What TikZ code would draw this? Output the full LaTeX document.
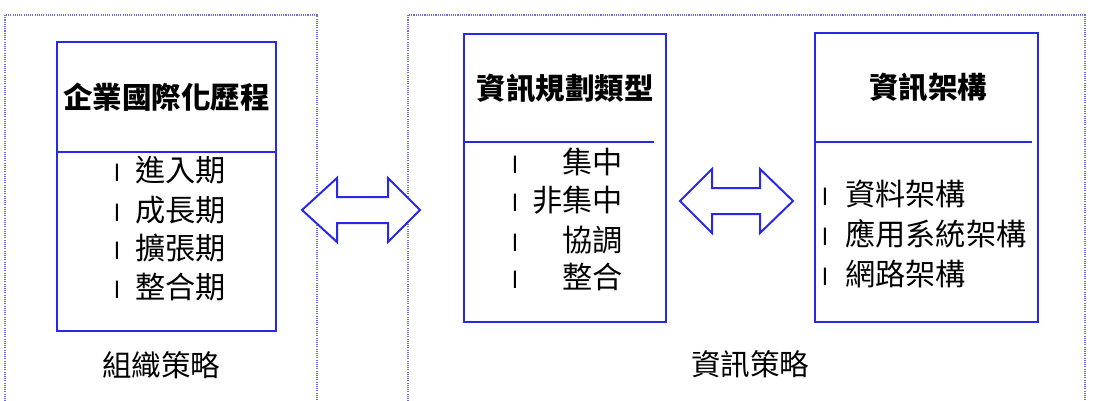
\documentclass[tikz,border=0pt]{standalone}
\usepackage{fontspec}
\setmainfont{Noto Sans CJK TC}
\newfontfamily\bulfont{Liberation Sans}
\definecolor{boxblue}{RGB}{40,40,235}
\definecolor{dotblue}{RGB}{110,110,225}
\begin{document}
\begin{tikzpicture}[x=1pt,y=-1pt,
  box/.style={draw=boxblue, line width=2pt, rectangle, inner sep=0pt},
  divline/.style={draw=boxblue, line width=2pt},
  region/.style={draw=dotblue, line width=1.4pt, dash pattern=on 1.1pt off 1.1pt},
  dblarrow/.style={draw=boxblue, line width=2pt, fill=white, line join=miter},
  boxtitle/.style={inner sep=0pt, font=\fontsize{29.5}{34}\selectfont\bfseries},
  listitem/.style={inner sep=0pt, font=\fontsize{30.2}{34}\selectfont},
  bul/.style={inner sep=0pt, font=\bulfont\fontsize{24}{26}\selectfont},
  captext/.style={inner sep=0pt, font=\fontsize{29.5}{34}\selectfont}]
\useasboundingbox (0,0) rectangle (1100,401);
\fill[white] (0,0) rectangle (1100,401);

% dotted regions
\draw[region] (5,410) -- (5,15) -- (317,15) -- (317,410);
\draw[region] (408,410) -- (408,15) -- (1085,15) -- (1085,410);

% left box
\node[box, minimum width=219pt, minimum height=289pt] (org) at (166.5,186.5) {};
\draw[divline] (org.west |- 0,152) -- (org.east |- 0,152);
\node[boxtitle] (orgt) at (166.5,97) {企業國際化歷程};
\node[bul] (ob1) at (117,173) {l};
\node[listitem, anchor=west] (oi1) at (135,170) {進入期};
\node[bul] (ob2) at (117,213) {l};
\node[listitem, anchor=west] (oi2) at (135,210) {成長期};
\node[bul] (ob3) at (117,251) {l};
\node[listitem, anchor=west] (oi3) at (135,248) {擴張期};
\node[bul] (ob4) at (117,290) {l};
\node[listitem, anchor=west] (oi4) at (135,287) {整合期};
\node[captext] (orgcap) at (161,365) {組織策略};

% middle box
\node[box, minimum width=202pt, minimum height=288pt] (plan) at (565,178) {};
\draw[divline] (plan.west |- 0,142) -- (654,142);
\node[boxtitle] (plant) at (565,89) {資訊規劃類型};
\node[bul] (pb1) at (515,165) {l};
\node[listitem, anchor=east] (pi1) at (623,162) {集中};
\node[bul] (pb2) at (515,203) {l};
\node[listitem, anchor=east] (pi2) at (623,200) {非集中};
\node[bul] (pb3) at (515,243) {l};
\node[listitem, anchor=east] (pi3) at (623,240) {協調};
\node[bul] (pb4) at (515,280) {l};
\node[listitem, anchor=east] (pi4) at (623,277) {整合};

% right box
\node[box, minimum width=223pt, minimum height=288pt] (arch) at (926.5,177.5) {};
\draw[divline] (arch.west |- 0,142) -- (1032,142);
\node[boxtitle] (archt) at (928,88) {資訊架構};
\node[bul] (ab1) at (825,197) {l};
\node[listitem, anchor=west] (ai1) at (845,194) {資料架構};
\node[bul] (ab2) at (825,237) {l};
\node[listitem, anchor=west] (ai2) at (845,234) {應用系統架構};
\node[bul] (ab3) at (825,277) {l};
\node[listitem, anchor=west] (ai3) at (845,274) {網路架構};

\node[captext] (infocap) at (750,364) {資訊策略};

% double arrows
\draw[dblarrow] (302,210) -- (337,178) -- (337,197) -- (388,197) -- (388,178)
  -- (420,210) -- (388,242) -- (388,223) -- (337,223) -- (337,242) -- cycle;
\draw[dblarrow] (680,201) -- (712,169) -- (712,188) -- (760,188) -- (760,169)
  -- (793,201) -- (760,233) -- (760,214) -- (712,214) -- (712,233) -- cycle;
\end{tikzpicture}
\end{document}
